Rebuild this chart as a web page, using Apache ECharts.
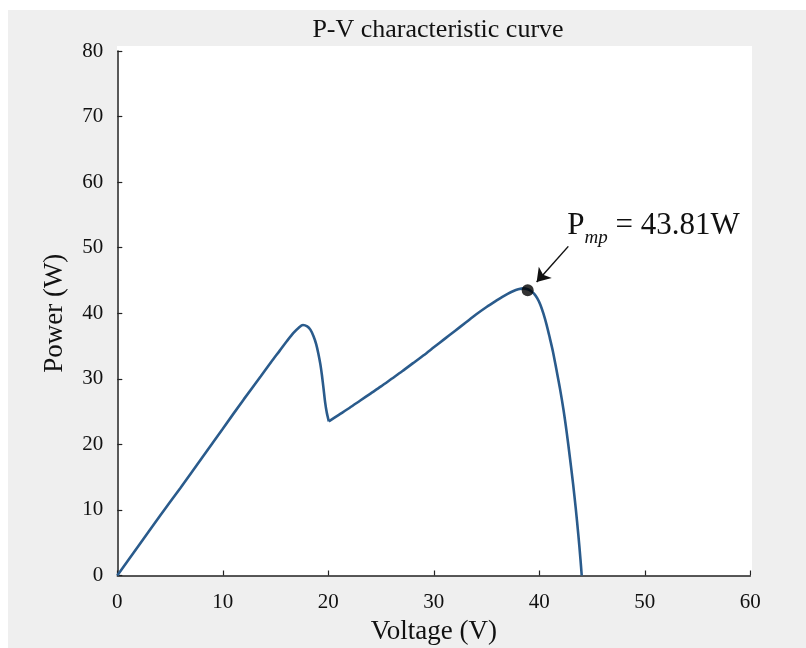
<!DOCTYPE html>
<html>
<head>
<meta charset="utf-8">
<script src="https://cdn.jsdelivr.net/npm/echarts@6/dist/echarts.min.js"></script>
<style>
html,body{margin:0;padding:0;background:#fff;}
#chart{width:806px;height:648px;}
</style>
</head>
<body>
<div id="chart"></div>
<script>
// Data
var voltage = [0, 2, 4, 6, 8, 10, 12, 13.6, 14.6, 15.4, 16.1, 16.7, 17.2, 17.6, 18.0, 18.3, 18.6, 18.85, 19.05, 19.25, 19.4, 19.55, 19.7, 19.85, 20.05,
  21, 22, 23, 24, 25, 26, 27, 28, 29, 30, 31, 32, 33, 34, 35, 36, 36.5, 37, 37.5, 38.0, 38.5, 38.9, 39.2, 39.5, 39.8, 40.1, 40.4, 40.7, 41.0, 41.3, 41.6, 41.96, 42.3, 42.6, 42.9, 43.2, 43.45, 43.7, 43.9, 44.02];
var power = [0, 4.5, 9.0, 13.4, 17.9, 22.4, 26.9, 30.4, 32.6, 34.3, 35.8, 37.0, 37.8, 38.2, 38.0, 37.5, 36.5, 35.3, 33.9, 32.2, 30.5, 28.5, 26.4, 24.9, 23.5,
  24.5, 25.55, 26.65, 27.75, 28.85, 30.0, 31.15, 32.35, 33.55, 34.8, 36.05, 37.3, 38.55, 39.8, 40.95, 42.0, 42.5, 42.95, 43.35, 43.65, 43.8, 43.65, 43.4, 43.0, 42.3, 41.3, 39.9, 38.2, 36.2, 34.1, 31.6, 28.5, 25.2, 21.8, 18.0, 14.0, 10.3, 6.2, 2.5, 0];
var troughIndex = 24; // sharp corner where the second rise begins
var xTicks = [0, 10, 20, 30, 40, 50, 60];
var yTicks = [0, 10, 20, 30, 40, 50, 60, 70, 80];
var mppPoint = [38.9, 43.5];
var mppLabel = '43.81W';
var arrowFrom = [42.75, 50.2];
var arrowTo = [39.75, 44.75];
var labelAnchor = [42.6, 53.3];

var FONT = 'Liberation Serif';
var lineData = voltage.map(function (v, i) { return [v, power[i]]; });
var seg1 = lineData.slice(0, troughIndex + 1);
var seg2 = lineData.slice(troughIndex);

var chart = echarts.init(document.getElementById('chart'), null, {renderer: 'canvas'});
var axisCommon = {
  type: 'value',
  axisLine: {show: true, lineStyle: {color: '#222', width: 1.5}},
  axisTick: {show: true, inside: true, length: 5, lineStyle: {color: '#222', width: 1.2}},
  splitLine: {show: false},
  nameLocation: 'middle',
  nameTextStyle: {fontFamily: FONT, fontSize: 27, color: '#111'},
  axisLabel: {fontFamily: FONT, fontSize: 21, color: '#111'}
};
var lineStyle = {color: '#2a5b8c', width: 2.6};
chart.setOption({
  animation: false,
  backgroundColor: '#fff',
  graphic: [
    {type: 'rect', z: -10, shape: {x: 8, y: 10, width: 806, height: 648}, style: {fill: '#efefef'}},
    {type: 'rect', z: -9, shape: {x: 117, y: 46, width: 635, height: 530}, style: {fill: '#ffffff'}},
    {type: 'text', x: 438, y: 30, style: {text: 'P-V characteristic curve', align: 'center', verticalAlign: 'middle', fontFamily: FONT, fontSize: 26, fill: '#111'}}
  ],
  grid: {left: 117.3, right: 55.7, top: 51, bottom: 72.5, show: true, backgroundColor: '#fff', borderWidth: 0, containLabel: false, outerBoundsMode: 'none'},
  xAxis: Object.assign({}, axisCommon, {
    min: xTicks[0], max: xTicks[xTicks.length - 1], interval: 10,
    name: 'Voltage (V)', nameGap: 43,
    axisLabel: Object.assign({}, axisCommon.axisLabel, {margin: 16})
  }),
  yAxis: Object.assign({}, axisCommon, {
    min: yTicks[0], max: yTicks[yTicks.length - 1], interval: 10,
    name: 'Power (W)', nameGap: 49,
    axisLabel: Object.assign({}, axisCommon.axisLabel, {margin: 14})
  }),
  series: [
    {
      type: 'line',
      data: seg1,
      showSymbol: false,
      smooth: 0.3,
      lineStyle: lineStyle
    },
    {
      type: 'line',
      data: seg2,
      showSymbol: false,
      smooth: 0.3,
      lineStyle: lineStyle,
      markLine: {
        silent: true,
        symbol: ['none', 'arrow'],
        symbolSize: 13,
        label: {show: false},
        lineStyle: {color: '#111', width: 1.5, type: 'solid'},
        data: [[{coord: arrowFrom}, {coord: arrowTo}]]
      },
      markPoint: {
        silent: true,
        data: [{
          coord: labelAnchor,
          symbol: 'circle',
          symbolSize: 1,
          itemStyle: {color: 'rgba(0,0,0,0)'},
          label: {
            show: true,
            position: 'right',
            distance: 0,
            formatter: '{a|P}{b|mp}{a| = ' + mppLabel + '}',
            rich: {
              a: {fontFamily: FONT, fontSize: 31, color: '#111'},
              b: {fontFamily: FONT, fontSize: 19, fontStyle: 'italic', color: '#111', padding: [24, 0, 0, 0]}
            }
          }
        }]
      }
    },
    {
      type: 'scatter',
      data: [mppPoint],
      symbol: 'circle',
      symbolSize: 12,
      itemStyle: {color: '#000'},
      z: 5
    }
  ]
});
</script>
</body>
</html>
